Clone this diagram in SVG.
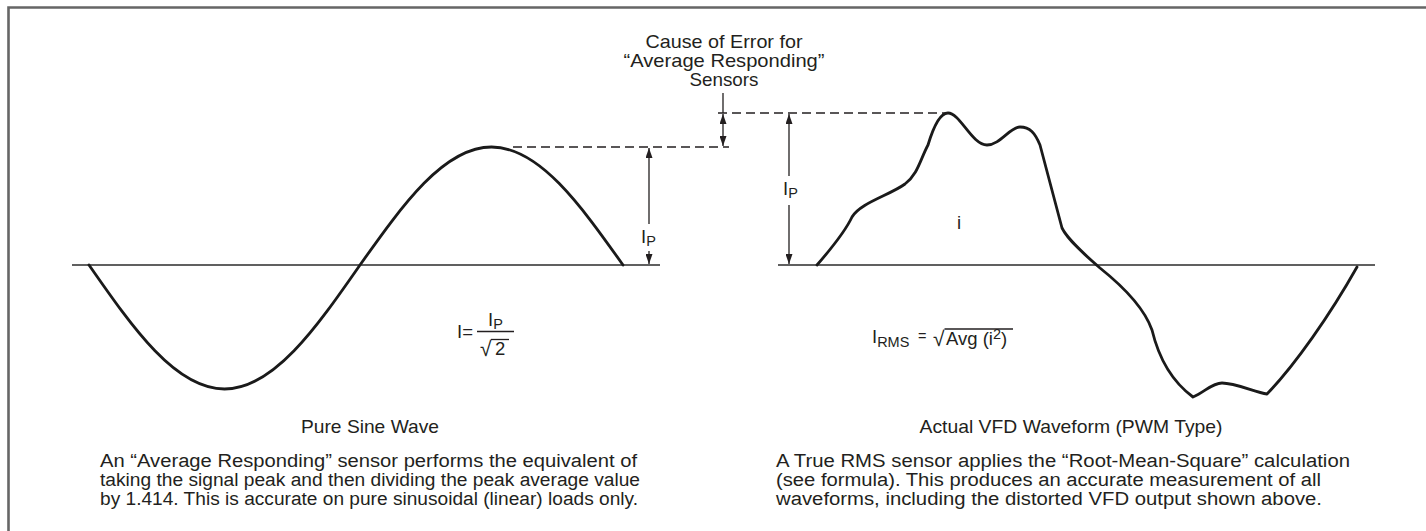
<svg xmlns="http://www.w3.org/2000/svg" width="1426" height="531" viewBox="0 0 1426 531">
<defs>
<marker id="arr" viewBox="0 0 10 7" refX="10" refY="3.5" markerWidth="10" markerHeight="7" markerUnits="userSpaceOnUse" orient="auto-start-reverse">
<path d="M0,0 L10,3.5 L0,7 z" fill="#231f20"/>
</marker>
<style>
text{font-family:"Liberation Sans",Arial,Helvetica,sans-serif;fill:#231f20;}
.t{font-size:18.5px;}
.p{font-size:18px;}
.sub{font-size:14.5px;}
.rad{font-size:21px;}
.mid{text-anchor:middle;}
.wave{fill:none;stroke:#1a1a1a;stroke-width:2.8;stroke-linejoin:round;stroke-linecap:round;}
.axis{stroke:#2b2b2b;stroke-width:1.6;fill:none;}
.dash{stroke:#231f20;stroke-width:1.4;stroke-dasharray:9,5;fill:none;}
.arrow{stroke:#231f20;stroke-width:1.3;fill:none;}
.frame{stroke:#666;stroke-width:2.6;fill:none;}
</style>
</defs>
<rect width="1426" height="531" fill="#fff"/>
<g id="frame">
<path class="frame" d="M8.5,531 V7.5 H1426"/>
</g>
<g id="sine-wave">
<line class="axis" x1="72" y1="265" x2="660" y2="265"/>
<path class="wave" d="M89,265 C133.2,328.5 175.5,389 224.5,389 C273.5,389 315.8,328.5 360,265 C402.9,204.5 443.9,147 491.5,147 C539.1,147 580.1,204.5 623,265"/>
<text class="t mid" x="370" y="433" textLength="138" lengthAdjust="spacingAndGlyphs">Pure Sine Wave</text>
<text class="t" x="457" y="338">I=</text>
<text class="t" x="488" y="326">I<tspan class="sub" dy="3">P</tspan></text>
<line class="arrow" x1="477" y1="331.5" x2="514" y2="331.5"/>
<text class="rad" x="480" y="356">√</text>
<line class="arrow" x1="491" y1="339.5" x2="509" y2="339.5"/>
<text class="t" x="495" y="355">2</text>
<text class="p" x="100" y="467" textLength="537" lengthAdjust="spacingAndGlyphs">An “Average Responding” sensor performs the equivalent of</text>
<text class="p" x="100" y="486" textLength="540" lengthAdjust="spacingAndGlyphs">taking the signal peak and then dividing the peak average value</text>
<text class="p" x="100" y="505" textLength="538" lengthAdjust="spacingAndGlyphs">by 1.414. This is accurate on pure sinusoidal (linear) loads only.</text>
</g>
<g id="vfd-wave">
<line class="axis" x1="778" y1="265" x2="1375" y2="265"/>
<path class="wave" d="M817,265 C830,250 845,232 852,217 C860,203 890,195 905,184 C918,174 920,160 928,145 C934,125 941,113 948,113 C960,113 972,145 987,145 C1000,145 1010,127 1020,127 C1030,127 1035,133 1040,145 L1062,228 C1068,240 1085,255 1100,268 C1125,288 1145,310 1152,330 C1158,355 1170,380 1193,397 C1205,392 1212,383 1222,383 C1235,383 1255,392 1267,394 C1295,365 1330,315 1357,267"/>
<text class="t" x="957" y="229">i</text>
<text class="t mid" x="1071" y="433" textLength="303" lengthAdjust="spacingAndGlyphs">Actual VFD Waveform (PWM Type)</text>
<text class="t" x="872" y="343">I<tspan class="sub" dy="4">RMS</tspan></text>
<text class="sub" x="918" y="341">=</text>
<text class="rad" x="933" y="346">√</text>
<line class="arrow" x1="944.5" y1="329" x2="1013" y2="329"/>
<text class="t" x="946" y="345">Avg (i<tspan class="sub" dy="-6">2</tspan><tspan dy="6">)</tspan></text>
<text class="p" x="776" y="467" textLength="574" lengthAdjust="spacingAndGlyphs">A True RMS sensor applies the “Root-Mean-Square” calculation</text>
<text class="p" x="776" y="486" textLength="545" lengthAdjust="spacingAndGlyphs">(see formula). This produces an accurate measurement of all</text>
<text class="p" x="776" y="505" textLength="546" lengthAdjust="spacingAndGlyphs">waveforms, including the distorted VFD output shown above.</text>
</g>
<g id="error-label">
<text class="t mid" x="724" y="48" textLength="157" lengthAdjust="spacingAndGlyphs">Cause of Error for</text>
<text class="t mid" x="724" y="67" textLength="201" lengthAdjust="spacingAndGlyphs">“Average Responding”</text>
<text class="t mid" x="724" y="86" textLength="69" lengthAdjust="spacingAndGlyphs">Sensors</text>
</g>
<g id="connectors">
<line class="dash" x1="513" y1="147" x2="729" y2="147"/>
<line class="dash" x1="718" y1="113" x2="948" y2="113"/>
<line class="arrow" x1="723" y1="93" x2="723" y2="113"/>
<line class="arrow" x1="723" y1="114" x2="723" y2="146" marker-start="url(#arr)" marker-end="url(#arr)"/>
<line class="arrow" x1="649" y1="148" x2="649" y2="224" marker-start="url(#arr)"/>
<line class="arrow" x1="649" y1="251" x2="649" y2="264" marker-end="url(#arr)"/>
<line class="arrow" x1="789" y1="114" x2="789" y2="176" marker-start="url(#arr)"/>
<line class="arrow" x1="789" y1="205" x2="789" y2="264" marker-end="url(#arr)"/>
</g>
<g id="ip-labels">
<text class="t" x="641" y="243">I<tspan class="sub" dy="3">P</tspan></text>
<text class="t" x="783" y="195">I<tspan class="sub" dy="3">P</tspan></text>
</g>
</svg>
